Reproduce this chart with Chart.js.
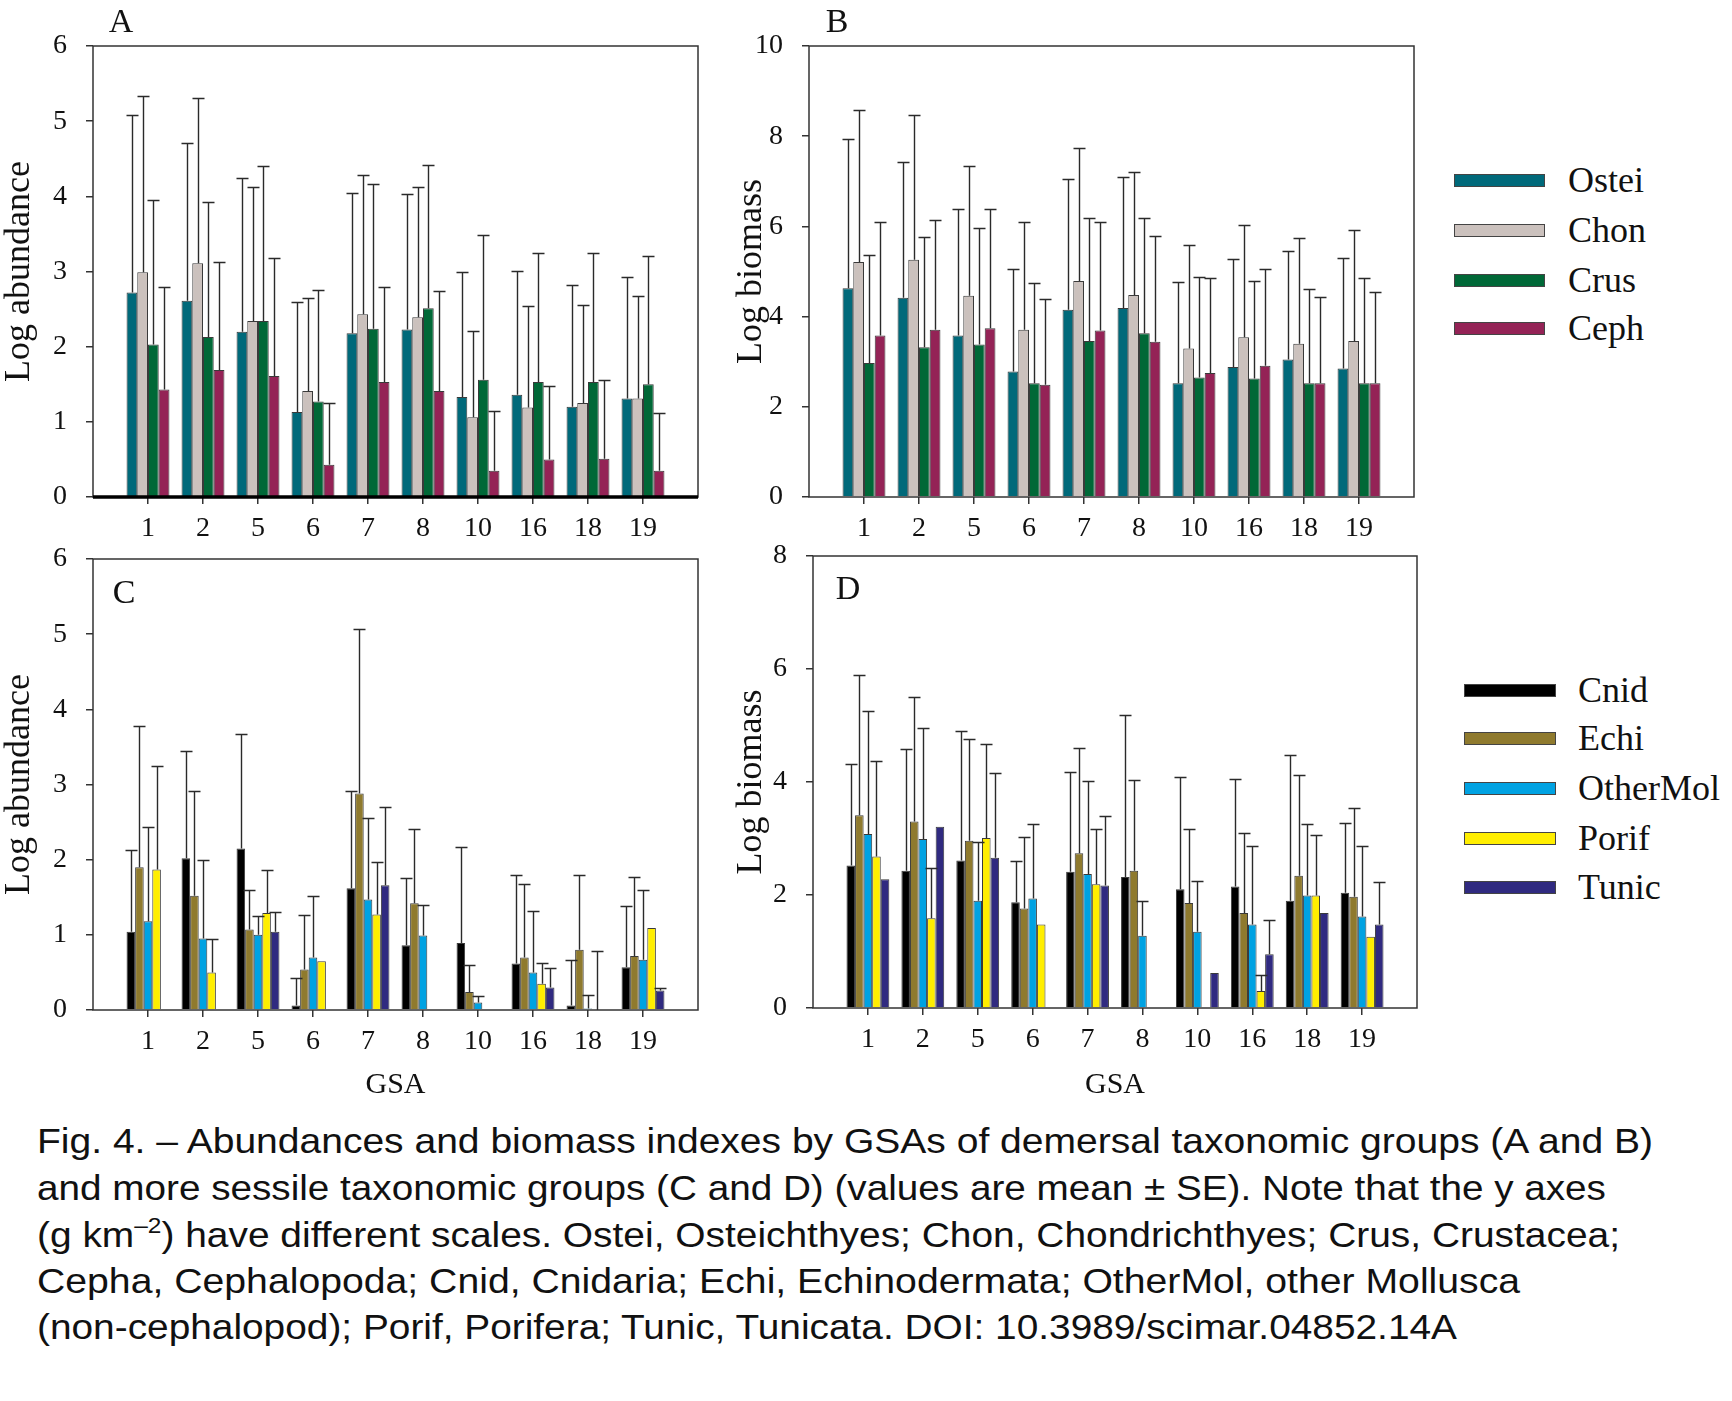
<!DOCTYPE html>
<html><head><meta charset="utf-8">
<script src="https://cdn.jsdelivr.net/npm/chart.js@4.4.1/dist/chart.umd.min.js"></script>
<style>
html,body{margin:0;padding:0;background:#fff;}
body{width:1732px;height:1401px;position:relative;overflow:hidden;}
canvas{position:absolute;}
.lbl{position:absolute;font-family:'Liberation Serif','Times New Roman',serif;color:#111;line-height:1;transform:translate(-50%,-50%);white-space:nowrap;}
.sw{position:absolute;border:1px solid #444;box-sizing:border-box;}
.lt{position:absolute;font-family:'Liberation Serif','Times New Roman',serif;font-size:36px;line-height:40px;white-space:nowrap;color:#111;}
.cap{position:absolute;left:37px;font-family:'Liberation Sans',Arial,sans-serif;font-size:35px;line-height:40px;white-space:nowrap;transform-origin:0 0;color:#111;}
.cap sup{font-size:22px;vertical-align:14px;line-height:0;}
</style></head><body>
<script>
// ---------- data ----------
const groups = ['1','2','5','6','7','8','10','16','18','19'];

// Panel A: log abundance, demersal groups (mean and mean+SE)
const aOstei   = [2.72,2.61,2.20,1.13,2.18,2.23,1.33,1.36,1.20,1.31];
const aOsteiUp = [5.08,4.71,4.25,2.59,4.04,4.03,2.99,3.01,2.82,2.93];
const aChon    = [2.99,3.11,2.34,1.41,2.43,2.39,1.06,1.19,1.25,1.31];
const aChonUp  = [5.33,5.31,4.13,2.65,4.29,4.12,2.21,2.54,2.56,2.68];
const aCrus    = [2.03,2.13,2.34,1.27,2.24,2.51,1.56,1.53,1.53,1.50];
const aCrusUp  = [3.95,3.93,4.40,2.76,4.17,4.42,3.49,3.24,3.24,3.20];
const aCeph    = [1.43,1.69,1.61,0.43,1.53,1.41,0.35,0.50,0.51,0.35];
const aCephUp  = [2.80,3.12,3.18,1.25,2.80,2.74,1.15,1.48,1.55,1.12];

// Panel B: log biomass, demersal groups
const bOstei   = [4.63,4.42,3.58,2.78,4.15,4.19,2.52,2.88,3.05,2.85];
const bOsteiUp = [7.94,7.43,6.38,5.05,7.04,7.09,4.77,5.27,5.46,5.30];
const bChon    = [5.21,5.26,4.46,3.71,4.79,4.48,3.29,3.54,3.40,3.46];
const bChonUp  = [8.58,8.47,7.34,6.10,7.73,7.21,5.59,6.04,5.74,5.91];
const bCrus    = [2.97,3.32,3.38,2.52,3.46,3.63,2.65,2.63,2.52,2.52];
const bCrusUp  = [5.37,5.76,5.96,4.74,6.18,6.18,4.88,4.80,4.61,4.86];
const bCeph    = [3.58,3.71,3.74,2.49,3.69,3.44,2.75,2.91,2.52,2.52];
const bCephUp  = [6.10,6.15,6.38,4.38,6.10,5.79,4.85,5.05,4.44,4.54];

// Panel C: log abundance, sessile groups
const cCnid    = [1.04,2.02,2.15,0.06,1.62,0.86,0.89,0.62,0.06,0.57];
const cCnidUp  = [2.13,3.45,3.67,0.42,2.92,1.75,2.17,1.80,0.66,1.39];
const cEchi    = [1.90,1.52,1.07,0.54,2.88,1.42,0.24,0.70,0.80,0.72];
const cEchiUp  = [3.78,2.91,1.59,1.27,5.07,2.41,0.60,1.67,1.79,1.77];
const cOther   = [1.18,0.95,1.00,0.70,1.47,0.99,0.10,0.50,0.02,0.67];
const cOtherUp = [2.43,1.99,1.25,1.52,2.55,1.40,0.19,1.32,0.20,1.59];
const cPorif   = [1.87,0.50,1.29,0.65,1.27,0,0,0.35,0,1.09];
const cPorifUp = [3.25,0.95,1.86,null,1.97,null,null,0.62,0.79,null];
const cTunic   = [0,0,1.04,0,1.66,0,0,0.30,0,0.26];
const cTunicUp = [null,null,1.30,null,2.70,null,null,0.56,null,0.29];

// Panel D: log biomass, sessile groups
const dCnid    = [2.52,2.43,2.61,1.87,2.41,2.32,2.10,2.15,1.90,2.04];
const dCnidUp  = [4.31,4.59,4.91,2.61,4.18,5.18,4.09,4.05,4.48,3.28];
const dEchi    = [3.41,3.30,2.96,1.76,2.74,2.43,1.86,1.68,2.34,1.97];
const dEchiUp  = [5.89,5.51,4.76,3.03,4.60,4.03,3.16,3.09,4.13,3.54];
const dOther   = [3.08,2.99,1.90,1.94,2.37,1.28,1.35,1.48,1.99,1.62];
const dOtherUp = [5.26,4.95,2.93,3.26,4.02,1.90,2.25,2.87,3.26,2.87];
const dPorif   = [2.68,1.59,3.01,1.48,2.19,0,0,0.30,1.99,1.26];
const dPorifUp = [4.38,2.48,4.68,null,3.16,null,null,0.58,3.07,null];
const dTunic   = [2.28,3.21,2.66,0,2.17,0,0.62,0.95,1.68,1.48];
const dTunicUp = [null,null,4.16,null,3.39,null,null,1.56,null,2.23];

const demersalNames  = ['Ostei','Chon','Crus','Ceph'];
const demersalColors = ['#00697a','#cbc1bd','#006837','#942356'];
const sessileNames   = ['Cnid','Echi','OtherMol','Porif','Tunic'];
const sessileColors  = ['#000000','#8f7a2e','#00a2e2','#ffee00','#302a80'];

const captionLines = [
  'Fig. 4. – Abundances and biomass indexes by GSAs of demersal taxonomic groups (A and B)',
  'and more sessile taxonomic groups (C and D) (values are mean ± SE). Note that the y axes',
  '(g km<sup>–2</sup>) have different scales. Ostei, Osteichthyes; Chon, Chondrichthyes; Crus, Crustacea;',
  'Cepha, Cephalopoda; Cnid, Cnidaria; Echi, Echinodermata; OtherMol, other Mollusca',
  '(non-cephalopod); Porif, Porifera; Tunic, Tunicata. DOI: 10.3989/scimar.04852.14A'
];

// ---------- drawing ----------
const SERIF = "'Liberation Serif','Times New Roman',serif";

const boxPlugin = {
  id: 'box',
  afterDatasetsDraw(chart, args, opts) {
    const {ctx, chartArea: {left, top, right, bottom}} = chart;
    ctx.save();
    ctx.strokeStyle = '#333'; ctx.lineWidth = 1.5;
    ctx.strokeRect(left, top, right - left, bottom - top);
    if (opts.thick) {
      ctx.strokeStyle = '#000'; ctx.lineWidth = 3.5;
      ctx.beginPath(); ctx.moveTo(left, bottom); ctx.lineTo(right, bottom); ctx.stroke();
    }
    ctx.restore();
  }
};

const errPlugin = {
  id: 'err',
  afterDatasetsDraw(chart) {
    const ctx = chart.ctx, ys = chart.scales.y;
    ctx.save();
    ctx.strokeStyle = '#2a2a2a'; ctx.lineWidth = 1.4;
    chart.data.datasets.forEach((ds, i) => {
      const meta = chart.getDatasetMeta(i);
      ds.upper.forEach((u, j) => {
        if (u == null) return;
        const el = meta.data[j + 1];
        if (!el) return;
        const x = Math.round(el.x) + 0.5;
        const y0 = ys.getPixelForValue(ds.data[j + 1] || 0);
        const y1 = Math.round(ys.getPixelForValue(u)) + 0.5;
        ctx.beginPath();
        ctx.moveTo(x, y0); ctx.lineTo(x, y1);
        ctx.moveTo(x - 6, y1); ctx.lineTo(x + 6, y1);
        ctx.stroke();
      });
    });
    ctx.restore();
  }
};

function makePanel(c) {
  const cv = document.createElement('canvas');
  cv.width = c.cw; cv.height = c.ch;
  cv.style.left = c.cx + 'px'; cv.style.top = c.cy + 'px';
  document.body.appendChild(cv);
  const labels = ['', ...groups, ''];
  const last = labels.length - 1;
  new Chart(cv, {
    type: 'bar',
    data: {
      labels,
      datasets: c.series.map(s => ({
        label: s.name,
        data: [null, ...s.values, null],
        upper: s.upper,
        backgroundColor: s.color,
        borderColor: '#3a3a3a',
        borderWidth: ctx => (ctx.raw ? 1 : 0),
        borderSkipped: 'start',
        categoryPercentage: 0.78,
        barPercentage: 1.0
      }))
    },
    options: {
      responsive: false, animation: false, devicePixelRatio: 1,
      layout: {padding: {top: c.T, right: c.R, left: 0, bottom: 0}},
      plugins: {legend: {display: false}, tooltip: {enabled: false}, box: {thick: c.thick}},
      scales: {
        x: {
          type: 'category', offset: false,
          grid: {offset: false, drawOnChartArea: false, tickLength: 7, lineWidth: 1.5,
                 color: ctx => (ctx.index === 0 || ctx.index === last) ? 'rgba(0,0,0,0)' : '#333'},
          border: {display: false},
          ticks: {autoSkip: false, maxRotation: 0, minRotation: 0, padding: 8, color: '#111',
                  font: {family: SERIF, size: 28}},
          title: c.xTitle ? {display: true, text: c.xTitle, color: '#111',
                  font: {family: SERIF, size: 30, lineHeight: 1.2}, padding: {top: 0, bottom: c.xTitlePad}}
                 : {display: false},
          afterFit: s => { s.height = c.B; }
        },
        y: {
          min: 0, max: c.yMax,
          ticks: {stepSize: c.step, padding: 19, color: '#111', font: {family: SERIF, size: 28}},
          grid: {drawOnChartArea: false, tickLength: 7, color: '#333', lineWidth: 1.5},
          border: {display: false},
          title: {display: true, text: c.yTitle, color: '#111',
                  font: {family: SERIF, size: 36, lineHeight: 1.1}, padding: {top: c.yTitlePad, bottom: 0}},
          afterFit: s => { s.width = c.L; }
        }
      }
    },
    plugins: [errPlugin, boxPlugin]
  });
}

function series(names, colors, vals, ups) {
  return names.map((n, i) => ({name: n, color: colors[i], values: vals[i], upper: ups[i]}));
}

// chart area: A 93..698 x 46..497, B 809..1414 x 46..497, C 93..698 x 559..1010, D 813..1417 x 556..1008
makePanel({cx: 0, cy: 6, cw: 715, ch: 551, T: 40, R: 17, L: 93, B: 60, yMax: 6, step: 1,
  yTitle: 'Log abundance', yTitlePad: 0, thick: true,
  series: series(demersalNames, demersalColors, [aOstei, aChon, aCrus, aCeph], [aOsteiUp, aChonUp, aCrusUp, aCephUp])});
makePanel({cx: 720, cy: 6, cw: 711, ch: 551, T: 40, R: 17, L: 89, B: 60, yMax: 10, step: 2,
  yTitle: 'Log biomass', yTitlePad: 12, thick: false,
  series: series(demersalNames, demersalColors, [bOstei, bChon, bCrus, bCeph], [bOsteiUp, bChonUp, bCrusUp, bCephUp])});
makePanel({cx: 0, cy: 519, cw: 715, ch: 591, T: 40, R: 17, L: 93, B: 100, yMax: 6, step: 1,
  yTitle: 'Log abundance', yTitlePad: 0, thick: false, xTitle: 'GSA', xTitlePad: 7,
  series: series(sessileNames, sessileColors, [cCnid, cEchi, cOther, cPorif, cTunic], [cCnidUp, cEchiUp, cOtherUp, cPorifUp, cTunicUp])});
makePanel({cx: 720, cy: 516, cw: 714, ch: 592, T: 40, R: 17, L: 93, B: 100, yMax: 8, step: 2,
  yTitle: 'Log biomass', yTitlePad: 12, thick: false, xTitle: 'GSA', xTitlePad: 5,
  series: series(sessileNames, sessileColors, [dCnid, dEchi, dOther, dPorif, dTunic], [dCnidUp, dEchiUp, dOtherUp, dPorifUp, dTunicUp])});

// panel letters
[['A', 121, 21], ['B', 837, 21], ['C', 124, 592], ['D', 848, 588]].forEach(([t, x, y]) => {
  const d = document.createElement('div');
  d.className = 'lbl'; d.textContent = t;
  d.style.left = x + 'px'; d.style.top = y + 'px'; d.style.fontSize = '34px';
  document.body.appendChild(d);
});

// legends
function legend(names, colors, swX, swW, textX, rows) {
  names.forEach((n, i) => {
    const s = document.createElement('div');
    s.className = 'sw';
    s.style.left = swX + 'px'; s.style.top = (rows[i] - 6.5) + 'px';
    s.style.width = swW + 'px'; s.style.height = '13px';
    s.style.background = colors[i];
    document.body.appendChild(s);
    const t = document.createElement('div');
    t.className = 'lt'; t.textContent = n;
    t.style.left = textX + 'px'; t.style.top = (rows[i] - 20) + 'px';
    document.body.appendChild(t);
  });
}
legend(demersalNames, demersalColors, 1454, 91, 1568, [180, 230, 280, 328]);
legend(sessileNames, sessileColors, 1464, 92, 1578, [690, 738, 788, 838, 887]);

// caption
const capBase = [1153, 1200, 1247, 1293, 1339];
const capRight = [1653, 1606, 1620, 1520, 1457];
captionLines.forEach((html, i) => {
  const d = document.createElement('div');
  d.className = 'cap'; d.innerHTML = html;
  d.style.top = (capBase[i] - 32) + 'px';
  document.body.appendChild(d);
  const w = d.getBoundingClientRect().width;
  const target = capRight[i] - 37;
  d.style.transform = 'scaleX(' + (target / w).toFixed(4) + ')';
});
</script>
</body></html>
